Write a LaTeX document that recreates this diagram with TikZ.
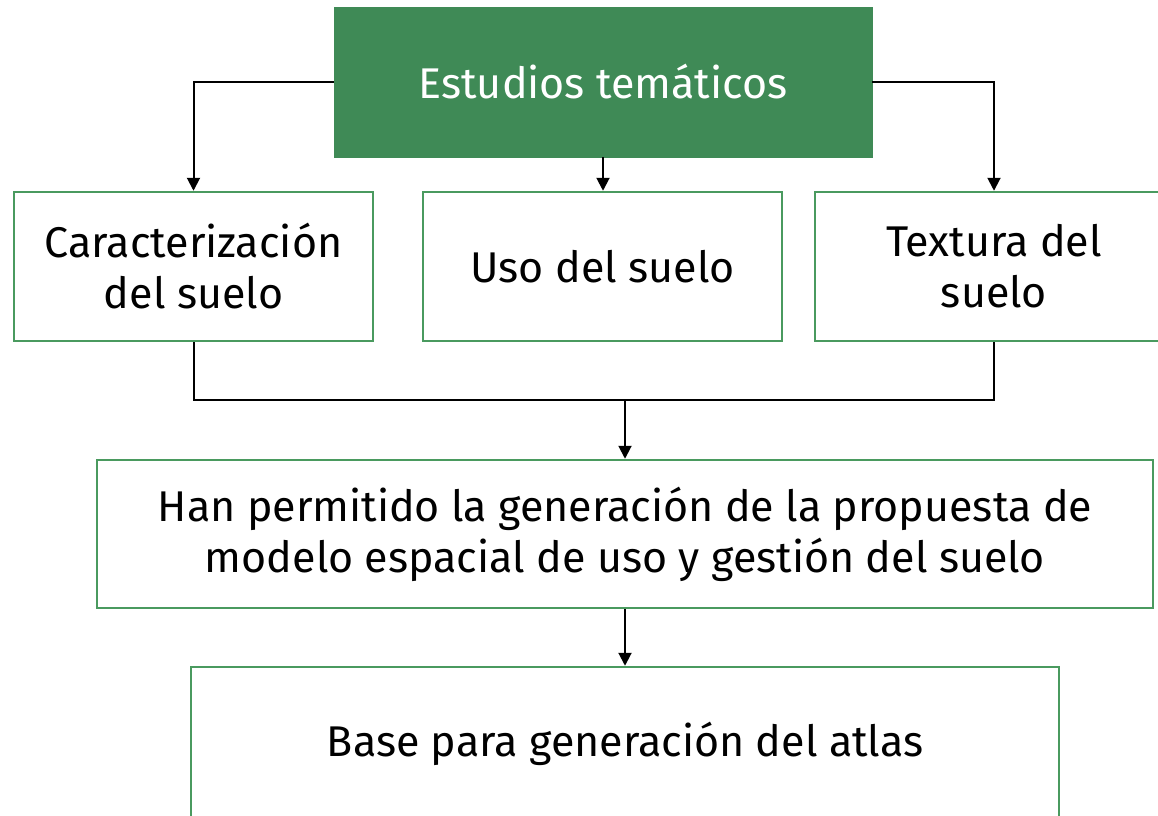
\documentclass[tikz,border=0pt]{standalone}
\usepackage{fontspec}
\setmainfont{Fira Sans}
\usetikzlibrary{arrows.meta}
\definecolor{gfill}{HTML}{3F8A56}
\definecolor{gline}{HTML}{4A9A5F}
\begin{document}
\begin{tikzpicture}[x=1pt,y=1pt,
  box/.style={draw=gline,line width=2.5pt,fill=white,align=center,
    font=\fontsize{43}{51}\selectfont,inner sep=0pt},
  arr/.style={draw=black,line width=2pt,-{Triangle[length=13pt,width=13pt]}},
  ln/.style={draw=black,line width=2pt}]
\useasboundingbox (0,0) rectangle (1158,-815);
\fill[white] (0,0) rectangle (1158,-815);
\node[fill=gfill,draw=gfill,text=white,font=\fontsize{43}{51}\selectfont,
  minimum width=538pt,minimum height=150pt,inner sep=0pt] (top) at (603,-82) {Estudios temáticos};
\node[box,minimum width=359pt,minimum height=149pt] (car) at (193.5,-266.5) {Caracterización\\del suelo};
\node[box,minimum width=359pt,minimum height=149pt] (uso) at (602.5,-266.5) {Uso del suelo};
\node[box,minimum width=358pt,minimum height=149pt] (tex) at (994,-266.5) {Textura del\\suelo};
\node[box,minimum width=1056pt,minimum height=148pt] (han) at (625,-534) {Han permitido la generación de la propuesta de\\modelo espacial de uso y gestión del suelo};
\node[box,minimum width=868pt,minimum height=160pt,text height=32pt,text depth=14pt] (base) at (625,-747) {Base para generación del atlas};
\coordinate (j) at (625,-400);
\draw[arr] (top.west) -| (car.north);
\draw[arr] (top.east) -| (tex.north);
\draw[arr] (top.south) -- (top.south |- uso.north);
\draw[ln] (car.south) |- (j);
\draw[ln] (tex.south) |- (j);
\draw[arr] (j) -- (han.north);
\draw[arr] (han.south) -- (base.north);
\end{tikzpicture}
\end{document}
